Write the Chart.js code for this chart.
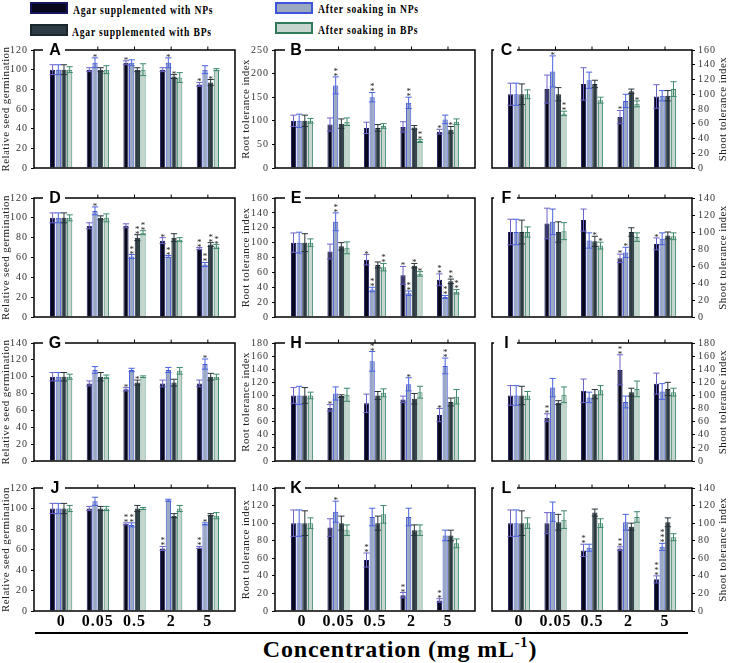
<!DOCTYPE html>
<html>
<head>
<meta charset="utf-8">
<script src="https://cdn.jsdelivr.net/npm/chart.js@4.4.0/dist/chart.umd.min.js"></script>
<style>
  body { margin: 0; background: #fff; }
  #page { position: relative; width: 730px; height: 663px; overflow: hidden; font-family: 'Liberation Serif', serif; }
  .panel { position: absolute; }
  .lg-box { position: absolute; width: 34px; height: 8px; border: 2px solid; }
  .lg-text { position: absolute; font-weight: bold; font-size: 12px; line-height: 14px; letter-spacing: 1px;
             transform: scaleX(0.8); transform-origin: left center; white-space: nowrap; }
  #xline { position: absolute; left: 35px; top: 632px; width: 653px; height: 2px; background: #000; }
  #xtitle { position: absolute; left: 35px; width: 730px; top: 635px; text-align: center; font-weight: bold;
            font-size: 24px; line-height: 28px; letter-spacing: 0.8px; }
  #xtitle sup { font-size: 60%; line-height: 0; vertical-align: 0.7em; }
</style>
</head>
<body>
<div id="page">
  <div class="lg-box" style="left:30px;top:2px;background:#08081c;border-color:#14145a"></div>
  <div class="lg-text" style="left:73px;top:3px">Agar supplemented with NPs</div>
  <div class="lg-box" style="left:30px;top:24px;background:#2d3c44;border-color:#1a282e"></div>
  <div class="lg-text" style="left:72px;top:25px">Agar supplemented with BPs</div>
  <div class="lg-box" style="left:275px;top:2px;background:#9aa9c0;border-color:#3f56d8"></div>
  <div class="lg-text" style="left:318px;top:2px">After soaking in NPs</div>
  <div class="lg-box" style="left:275px;top:22px;background:#c6d6cf;border-color:#2f7a5a"></div>
  <div class="lg-text" style="left:318px;top:23px">After soaking in BPs</div>
  <div id="xline"></div>
  <div id="xtitle">Concentration (mg mL<sup>-1</sup>)</div>
</div>
<script>
const categories = ['0', '0.05', '0.5', '2', '5'];
const seriesNames = ['Agar supplemented with NPs', 'After soaking in NPs', 'Agar supplemented with BPs', 'After soaking in BPs'];

// each panel: one row per series (bar order), one column per concentration
const valA = [[100,100,107,100,85],[100,107,107,107,100],[100,100,100,93,87],[100,100,100,92,100]];
const errA = [[5,2,2,2,2],[5,5,3,5,4],[5,2,2,2,3],[3,4,6,5,1]];
const starA = [[0,0,1,0,1],[0,1,0,1,0],[0,0,0,1,1],[0,0,0,0,0]];

const valB = [[100,92,85,87,77],[100,175,150,138,103],[100,94,85,86,81],[100,98,89,57,98]];
const errB = [[12,14,12,11,5],[14,18,10,12,9],[12,10,7,4,7],[5,8,5,3,6]];
const starB = [[0,0,0,0,1],[0,2,2,2,0],[0,0,0,0,1],[0,0,0,2,0]];

const valC = [[100,107,114,69,97],[100,131,119,91,98],[100,100,114,104,98],[100,74,92,87,107]];
const errC = [[15,19,22,9,16],[15,21,11,9,7],[14,9,5,3,7],[6,3,4,4,10]];
const starC = [[0,0,0,1,0],[0,1,0,0,0],[0,0,0,0,0],[0,2,0,1,0]];

const valD = [[100,92,92,77,69],[100,107,61,61,53],[100,100,80,80,73],[100,100,85,78,71]];
const errD = [[5,3,2,3,1],[5,4,2,1,2],[5,2,3,4,2],[3,4,2,2,2]];
const starD = [[0,0,0,1,2],[0,1,2,2,2],[0,0,2,0,2],[0,0,2,0,2]];

const valE = [[100,88,77,56,50],[100,128,37,32,27],[100,95,70,69,48],[100,93,67,58,34]];
const errE = [[13,10,7,12,8],[14,12,3,3,2],[12,5,4,3,3],[5,8,5,3,3]];
const starE = [[0,0,1,1,2],[0,2,2,2,2],[0,0,0,1,2],[0,0,2,1,2]];

const valF = [[100,110,114,69,86],[100,112,90,76,92],[100,100,89,100,96],[100,101,84,94,95]];
const errF = [[15,18,13,5,7],[15,15,9,6,7],[14,12,6,5,4],[6,10,4,5,4]];
const starF = [[0,0,0,1,1],[0,0,0,1,0],[0,0,1,0,0],[0,0,1,0,0]];

const valG = [[100,92,85,92,92],[100,108,108,108,115],[100,100,93,93,100],[100,100,100,107,100]];
const errG = [[5,3,2,4,4],[5,4,2,3,6],[5,5,3,4,4],[3,2,1,4,3]];
const starG = [[0,0,1,0,0],[0,0,0,0,1],[0,0,1,0,0],[0,0,0,0,0]];

const valH = [[100,81,88,94,70],[100,103,152,117,145],[100,99,100,95,90],[100,101,104,105,98]];
const errH = [[12,5,14,5,10],[14,10,15,10,12],[12,2,6,8,6],[5,10,6,9,11]];
const starH = [[0,1,0,0,1],[0,0,2,1,2],[0,0,0,0,0],[0,0,0,0,0]];

const valI = [[100,66,107,139,118],[100,112,97,90,106],[100,89,102,105,110],[100,101,108,110,105]];
const errI = [[15,6,18,23,16],[15,14,8,9,12],[14,3,7,6,10],[6,12,7,12,6]];
const starI = [[0,2,0,2,0],[0,0,0,0,0],[0,0,0,0,0],[0,0,0,0,0]];

const valJ = [[100,100,85,61,62],[100,107,84,108,85],[100,100,100,93,94],[100,100,100,100,93]];
const errJ = [[5,2,1,2,1],[5,4,2,1,1],[5,2,3,2,1],[3,2,1,3,3]];
const starJ = [[0,0,2,2,2],[0,0,2,0,1],[0,0,0,0,0],[0,0,0,0,0]];

const valK = [[100,95,58,18,12],[100,113,107,107,86],[100,100,100,92,86],[100,92,110,92,77]];
const errK = [[15,10,8,3,2],[15,12,10,10,6],[14,8,8,6,6],[6,6,10,6,5]];
const starK = [[0,0,2,2,2],[0,1,0,0,0],[0,0,0,0,0],[0,0,0,0,0]];

const valL = [[100,100,69,71,36],[100,113,72,101,73],[100,101,112,96,101],[100,104,100,107,84]];
const errL = [[15,12,7,2,4],[15,11,4,9,4],[14,9,4,4,5],[6,10,5,6,4]];
const starL = [[0,0,2,2,3],[0,0,0,0,3],[0,0,0,0,0],[0,0,0,0,0]];

const panelLetters = ['A','B','C','D','E','F','G','H','I','J','K','L'];
const yMax  = [120,250,160, 120,160,140, 140,180,180, 120,140,140];
const yStep = [20,50,20, 20,20,20, 20,20,20, 20,20,20];

// styling
const fills = ['#08081c', '#9aa9c0', '#2d3c44', '#c6d6cf'];
const borders = ['#1c1c60', '#3f56d8', '#1a282e', '#3d8a6c'];
const errColors = ['#6c64c8', '#4a62e0', '#263238', '#3d8a6c'];

const rowPlot = [[50,173],[198,322],[343,466],[488,611]];
const colCfg = [
  { left: 0,   width: 240, axisW: 34, pos: 'left',  padL: 0, padR: 5, title: 'Relative seed germination', titleX: 6,   gap: [9,31] },
  { left: 240, width: 240, axisW: 35, pos: 'left',  padL: 0, padR: 5, title: 'Root tolerance index',      titleX: 6,   gap: [10,30] },
  { left: 485, width: 245, axisW: 38, pos: 'right', padL: 7, padR: 0, title: 'Shoot tolerance index',     titleX: 238, gap: [2,25] }
];

const decor = {
  id: 'panelDecor',
  beforeDraw(chart) {
    chart.ctx.letterSpacing = '1px';
  },
  afterDatasetsDraw(chart, args, opts) {
    const ctx = chart.ctx;
    const y = chart.scales.y;
    ctx.save();
    ctx.letterSpacing = '0px';
    chart.data.datasets.forEach((ds, s) => {
      const meta = chart.getDatasetMeta(s);
      meta.data.forEach((bar, i) => {
        const v = ds.data[i].y, e = ds.errors[i];
        const yt = y.getPixelForValue(v + e), yb = y.getPixelForValue(v - e);
        const hw = bar.width / 2 + 0.5;
        ctx.strokeStyle = errColors[s];
        ctx.lineWidth = 1;
        ctx.beginPath();
        ctx.moveTo(bar.x, yt); ctx.lineTo(bar.x, yb);
        ctx.moveTo(bar.x - hw, yt); ctx.lineTo(bar.x + hw, yt);
        ctx.moveTo(bar.x - hw, yb); ctx.lineTo(bar.x + hw, yb);
        ctx.stroke();
        const n = ds.stars[i];
        ctx.fillStyle = '#222';
        ctx.font = '9px "Liberation Serif"';
        ctx.textAlign = 'center';
        ctx.textBaseline = 'alphabetic';
        for (let k = 0; k < n; k++) {
          ctx.fillText('*', bar.x, yt + 2 - k * 5);
        }
      });
    });
    ctx.restore();
  },
  afterDraw(chart, args, opts) {
    const ctx = chart.ctx;
    const a = chart.chartArea;
    const x = chart.scales.x;
    ctx.save();
    ctx.strokeStyle = '#000';
    ctx.lineWidth = 1.5;
    ctx.strokeRect(a.left, a.top, a.right - a.left, a.bottom - a.top);
    ctx.lineWidth = 1;
    ctx.beginPath();
    categories.forEach((c, i) => {
      const px = x.getPixelForValue(i);
      ctx.moveTo(px, a.top); ctx.lineTo(px, a.top - 3.5);
    });
    ctx.stroke();

    // panel letter sitting on the top border
    const g0 = a.left + opts.gap[0], g1 = a.left + opts.gap[1];
    ctx.fillStyle = '#fff';
    ctx.fillRect(g0, a.top - 5, g1 - g0, 10);
    ctx.fillStyle = '#000';
    ctx.letterSpacing = '0px';
    ctx.font = 'bold 16px "Liberation Sans"';
    ctx.textAlign = 'center';
    ctx.textBaseline = 'middle';
    ctx.fillText(opts.letter, (g0 + g1) / 2 + 1, a.top + 1);

    // rotated axis title
    ctx.translate(opts.titleX, (a.top + a.bottom) / 2);
    ctx.rotate(-Math.PI / 2);
    ctx.font = '11px "Liberation Serif"';
    ctx.letterSpacing = '0.4px';
    ctx.fillStyle = '#222';
    ctx.fillText(opts.title, 0, 0);
    ctx.restore();
  }
};

const page = document.getElementById('page');

function makePanel(idx, values, errs, stars) {
  const row = Math.floor(idx / 3), col = idx % 3;
  const c = colCfg[col];
  const [pt, pb] = rowPlot[row];
  const last = row === 3;
  const xH = last ? 22 : 0;
  const height = (pb - pt) + 14 + (last ? xH : 4);

  const wrap = document.createElement('div');
  wrap.className = 'panel';
  wrap.style.left = c.left + 'px';
  wrap.style.top = (pt - 14) + 'px';
  wrap.style.width = c.width + 'px';
  wrap.style.height = height + 'px';
  const canvas = document.createElement('canvas');
  wrap.appendChild(canvas);
  page.appendChild(wrap);

  new Chart(canvas, {
    type: 'bar',
    data: {
      datasets: seriesNames.map((name, s) => ({
        label: name,
        data: values[s].map((v, i) => ({ x: i, y: v })),
        errors: errs[s],
        stars: stars[s],
        backgroundColor: fills[s],
        borderColor: borders[s],
        borderWidth: 1,
        categoryPercentage: 0.62,
        barPercentage: 0.92
      }))
    },
    options: {
      responsive: true,
      maintainAspectRatio: false,
      animation: false,
      layout: { padding: { top: 14, bottom: last ? 0 : 4, left: c.padL, right: c.padR } },
      plugins: {
        legend: { display: false },
        tooltip: { enabled: false },
        panelDecor: { letter: panelLetters[idx], title: c.title, titleX: c.titleX, gap: c.gap }
      },
      scales: {
        x: {
          type: 'linear',
          offset: false,
          min: -0.74,
          max: 4.74,
          display: last,
          grid: { display: false, drawTicks: false, offset: false },
          border: { display: false },
          afterBuildTicks: s => { s.ticks = categories.map((cat, i) => ({ value: i })); },
          afterFit: s => { s.height = xH; },
          ticks: {
            callback: v => categories[v],
            font: { family: 'Liberation Serif', size: 16, weight: 'bold' },
            color: '#000',
            padding: 1,
            maxRotation: 0,
            autoSkip: false
          }
        },
        y: {
          position: c.pos,
          min: 0,
          max: yMax[idx],
          ticks: { stepSize: yStep[idx], autoSkip: false, font: { family: 'Liberation Serif', size: 10 }, color: '#333', padding: 3 },
          grid: { drawOnChartArea: false, tickLength: 3, color: '#000' },
          border: { display: false },
          afterFit: s => { s.width = c.axisW; }
        }
      }
    },
    plugins: [decor]
  });
}

makePanel(0, valA, errA, starA);
makePanel(1, valB, errB, starB);
makePanel(2, valC, errC, starC);
makePanel(3, valD, errD, starD);
makePanel(4, valE, errE, starE);
makePanel(5, valF, errF, starF);
makePanel(6, valG, errG, starG);
makePanel(7, valH, errH, starH);
makePanel(8, valI, errI, starI);
makePanel(9, valJ, errJ, starJ);
makePanel(10, valK, errK, starK);
makePanel(11, valL, errL, starL);
</script>
</body>
</html>
